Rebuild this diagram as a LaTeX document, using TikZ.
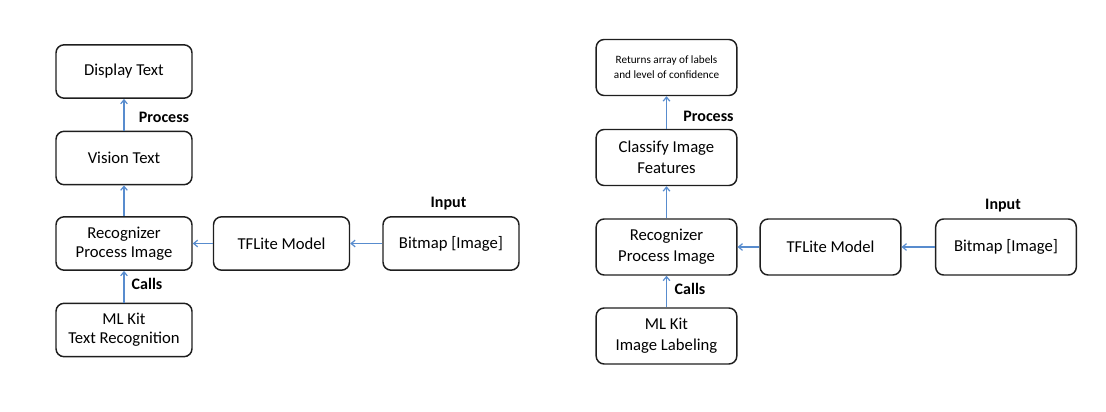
\documentclass[tikz,border=0pt]{standalone}
\usepackage{fontspec}
\setmainfont{Carlito}
\usepackage{xcolor}
\usetikzlibrary{arrows.meta}

\definecolor{flowblue}{RGB}{88,140,206}
\definecolor{boxline}{RGB}{30,30,30}

\begin{document}
\begin{tikzpicture}[x=0.75pt, y=-0.75pt,
  box/.style={draw=boxline, line width=1.1pt, rounded corners=6pt, align=center,
    minimum width=102pt, minimum height=40pt, inner sep=2pt,
    font=\fontsize{12.5}{14.5}\selectfont},
  bigbox/.style={box, minimum width=105.5pt, minimum height=42pt,
    font=\fontsize{12.5}{15.5}\selectfont},
  lbl/.style={font=\fontsize{12}{14}\selectfont\bfseries, inner sep=0pt},
  flow/.style={-{Straight Barb[length=3pt, width=5pt]}, flowblue, line width=0.9pt}]

\useasboundingbox (0,0) rectangle (1106,411);

% Left: text recognition
\node[box] (disp) at (124, 71.5) {Display Text};
\node[box] (vis) at (124, 158) {Vision Text};
\node[box] (rec) at (124, 243.5) {Recognizer\\Process Image};
\node[box] (mlk) at (124, 330) {ML Kit\\Text Recognition};
\node[box] (tfl) at (281.5, 243.5) {TFLite Model};
\node[box] (bmp) at (451, 243.5) {Bitmap [Image]};

\node[lbl] (proc) at (164, 117) {Process};
\node[lbl] (calls) at (147, 284) {Calls};
\node[lbl] (inp) at (448.5, 204) {Input};

\draw[flow] (vis) -- (disp);
\draw[flow] (rec) -- (vis);
\draw[flow] (mlk) -- (rec);
\draw[flow] (tfl) -- (rec);
\draw[flow] (bmp) -- (tfl);

% Right: image labeling
\node[bigbox, font=\fontsize{8.4}{11.2}\selectfont] (ret) at (666.5, 67.5) {Returns array of labels\\and level of confidence};
\node[bigbox] (cls) at (666.5, 157.5) {Classify Image\\Features};
\node[bigbox] (rectwo) at (666.5, 247) {Recognizer\\Process Image};
\node[bigbox] (mlktwo) at (666.5, 336) {ML Kit\\Image Labeling};
\node[bigbox] (tfltwo) at (830.5, 247) {TFLite Model};
\node[bigbox] (bmptwo) at (1006, 247) {Bitmap [Image]};

\node[lbl] (proctwo) at (708.5, 116) {Process};
\node[lbl] (callstwo) at (690, 289) {Calls};
\node[lbl] (inptwo) at (1003, 206) {Input};

\draw[flow] (cls) -- (ret);
\draw[flow] (rectwo) -- (cls);
\draw[flow] (mlktwo) -- (rectwo);
\draw[flow] (tfltwo) -- (rectwo);
\draw[flow] (bmptwo) -- (tfltwo);

\end{tikzpicture}
\end{document}
